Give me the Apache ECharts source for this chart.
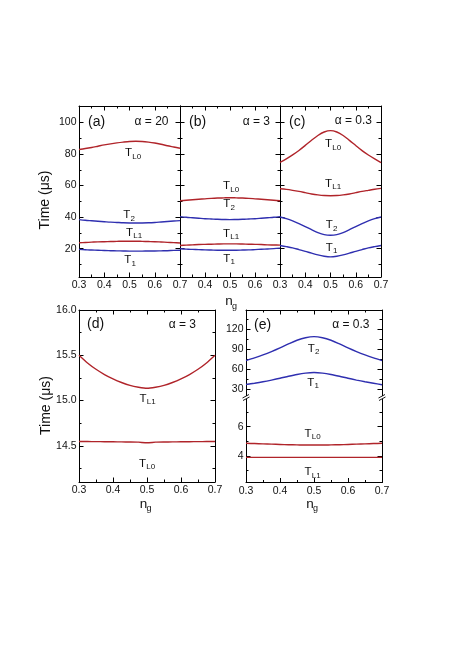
<!DOCTYPE html>
<html><head><meta charset="utf-8">
<script src="https://cdn.jsdelivr.net/npm/echarts@6/dist/echarts.min.js"></script>
<style>html,body{margin:0;padding:0;background:#fff}#c{width:457px;height:653px}</style>
</head><body><div id="c"></div><script>
const FONT = '"Liberation Sans", Arial, Helvetica, sans-serif';
const RED = '#b0242a', BLUE = '#2f2fb0';

// charge offset n_g
const ng = [0.300,0.325,0.350,0.375,0.400,0.425,0.450,0.475,0.500,0.525,0.550,0.575,0.600,0.625,0.650,0.675,0.700];

// (a) alpha = 20
const aTL0 = [82.9,83.5,84.2,85.0,85.8,86.5,87.1,87.6,88.0,88.1,88.0,87.6,87.0,86.2,85.3,84.5,83.7];
const aT2  = [38.4,38.0,37.7,37.4,37.1,36.8,36.6,36.4,36.3,36.3,36.3,36.4,36.6,36.9,37.2,37.5,37.8];
const aTL1 = [23.7,23.9,24.1,24.3,24.4,24.5,24.6,24.7,24.7,24.7,24.6,24.5,24.4,24.2,24.0,23.8,23.6];
const aT1  = [19.5,19.3,19.1,19.0,18.8,18.7,18.6,18.5,18.4,18.4,18.4,18.5,18.5,18.6,18.7,18.9,19.0];
// (b) alpha = 3
const bTL0 = [50.4,50.7,51.0,51.3,51.6,51.9,52.1,52.2,52.3,52.2,52.1,51.9,51.6,51.3,51.0,50.7,50.4];
const bT2  = [40.3,39.9,39.6,39.3,39.0,38.8,38.6,38.5,38.4,38.5,38.6,38.8,39.0,39.3,39.6,39.9,40.3];
const bTL1 = [22.0,22.2,22.4,22.6,22.7,22.8,22.9,23.0,23.0,23.0,22.9,22.8,22.7,22.6,22.4,22.3,22.2];
const bT1  = [19.9,19.7,19.5,19.4,19.2,19.1,19.0,19.0,19.0,19.0,19.1,19.2,19.4,19.6,19.8,20.0,20.3];
// (c) alpha = 0.3
const cTL0 = [74.8,77.0,79.5,82.3,85.5,88.8,91.8,94.0,94.9,94.0,91.8,88.7,85.4,82.2,79.4,76.9,74.6];
const cTL1 = [58.0,57.6,57.0,56.3,55.5,54.7,54.1,53.7,53.6,53.7,54.1,54.7,55.5,56.3,57.0,57.7,58.2];
const cT2  = [40.1,39.0,37.6,35.9,34.0,32.0,30.2,28.9,28.5,28.9,30.2,32.0,34.0,35.9,37.6,39.0,40.1];
const cT1  = [22.0,21.3,20.5,19.4,18.3,17.1,16.0,15.2,14.8,15.2,16.0,17.1,18.3,19.4,20.5,21.3,22.0];
// (d) alpha = 3 (zoom)
const dTL1 = [15.500,15.415,15.345,15.287,15.239,15.199,15.167,15.147,15.135,15.147,15.167,15.199,15.239,15.287,15.345,15.415,15.500];
const dTL0 = [14.548,14.547,14.546,14.545,14.544,14.543,14.542,14.540,14.533,14.540,14.542,14.543,14.544,14.545,14.546,14.547,14.548];
// (e) alpha = 0.3 (broken axis)
const eT2  = [72.9,77.0,81.5,86.5,92.0,98.0,103.5,107.3,108.9,107.3,103.5,98.0,92.0,86.5,81.5,77.0,72.9];
const eT1  = [36.9,38.9,41.1,43.6,46.3,49.3,52.0,54.0,54.9,54.0,52.0,49.3,46.3,43.6,41.1,38.8,36.5];
const eTL0 = [4.86,4.84,4.82,4.80,4.78,4.76,4.75,4.74,4.74,4.74,4.75,4.76,4.78,4.80,4.82,4.84,4.86];
const eTL1 = [3.89,3.89,3.89,3.89,3.89,3.89,3.89,3.89,3.89,3.89,3.89,3.89,3.89,3.89,3.89,3.89,3.89];

// tick values
const topMajor = [20,40,60,80,100], topMinor = [10,30,50,70,90];
const dMajor = [14.5,15.0,15.5,16.0], dMinor = [14.25,14.75,15.25,15.75];
const euMajor = [30,60,90,120], euMinor = [45,75,105,135];
const elMajor = [4,6], elMinor = [3,5,7];

const grids = [
  {left:79, top:106, width:101, height:171},
  {left:180, top:106, width:100, height:171},
  {left:280, top:106, width:101, height:171},
  {left:79, top:310, width:136, height:172},
  {left:246, top:310, width:136, height:87.5},
  {left:246, top:397.5, width:136, height:85}
];

const xAxes = [], yAxes = [];
const lineSt = {color:'#000', width:1};
function addX(gi, pos, showLabels, hideEnds) {
  xAxes.push({type:'value', gridIndex:gi, position:pos, min:0.3, max:0.7, interval:0.1,
    axisLine:{show:true, onZero:false, lineStyle:lineSt},
    axisTick:{show:true, inside:true, length:4.5, lineStyle:lineSt},
    minorTick:{show:true, splitNumber:2, length:2.5, lineStyle:lineSt},
    axisLabel:{show:showLabels, margin:3, fontSize:10.5, fontFamily:FONT, color:'#111',
      formatter:v=>v.toFixed(1), showMinLabel:!hideEnds, showMaxLabel:!hideEnds},
    splitLine:{show:false}, minorSplitLine:{show:false}});
  return xAxes.length - 1;
}
function addY(gi, pos, min, max, major, minor, showLabels, digits) {
  yAxes.push({type:'value', gridIndex:gi, position:pos, min:min, max:max,
    axisLine:{show:true, onZero:false, lineStyle:lineSt},
    axisTick:{show:true, inside:true, length:4.5, lineStyle:lineSt, customValues:major},
    axisLabel:{show:showLabels, margin:2.5, fontSize:10.5, fontFamily:FONT, color:'#111',
      customValues:major, formatter:v=>v.toFixed(digits)},
    splitLine:{show:false}});
  const idx = yAxes.length - 1;
  yAxes.push({type:'value', gridIndex:gi, position:pos, min:min, max:max,
    axisLine:{show:false}, axisTick:{show:true, inside:true, length:2.5, lineStyle:lineSt, customValues:minor},
    axisLabel:{show:false}, splitLine:{show:false}});
  return idx;
}

const series = [];
function addSeries(xi, yi, vals, color, smooth) {
  series.push({type:'line', xAxisIndex:xi, yAxisIndex:yi, showSymbol:false, symbol:'none',
    smooth:smooth, animation:false, silent:true,
    lineStyle:{color:color, width:1.4}, itemStyle:{color:color},
    data: ng.map((x,i)=>[x, vals[i]])});
}

// top panels
const topSets = [
  {curves:[[aTL0,RED],[aT2,BLUE],[aTL1,RED],[aT1,BLUE]], labelsY:true, hideEnds:false},
  {curves:[[bTL0,RED],[bT2,BLUE],[bTL1,RED],[bT1,BLUE]], labelsY:false, hideEnds:true},
  {curves:[[cTL0,RED],[cTL1,RED],[cT2,BLUE],[cT1,BLUE]], labelsY:false, hideEnds:false}
];
topSets.forEach((p, gi) => {
  const xb = addX(gi, 'bottom', true, p.hideEnds);
  addX(gi, 'top', false, false);
  const yl = addY(gi, 'left', 2, 110.5, topMajor, topMinor, p.labelsY, 0);
  addY(gi, 'right', 2, 110.5, topMajor, topMinor, false, 0);
  p.curves.forEach(c => addSeries(xb, yl, c[0], c[1], 0.3));
});
// (d)
{
  const xb = addX(3, 'bottom', true, false);
  addX(3, 'top', false, false);
  const yl = addY(3, 'left', 14.1, 16.0, dMajor, dMinor, true, 1);
  addY(3, 'right', 14.1, 16.0, dMajor, dMinor, false, 1);
  addSeries(xb, yl, dTL1, RED, 0.2);
  addSeries(xb, yl, dTL0, RED, 0.2);
}
// (e) upper
{
  const xt = addX(4, 'top', false, false);
  const yl = addY(4, 'left', 17.4, 149, euMajor, euMinor, true, 0);
  addY(4, 'right', 17.4, 149, euMajor, euMinor, false, 0);
  addSeries(xt, yl, eT2, BLUE, 0.3);
  addSeries(xt, yl, eT1, BLUE, 0.3);
}
// (e) lower
{
  const xb = addX(5, 'bottom', true, false);
  const yl = addY(5, 'left', 2.17, 8, elMajor, elMinor, true, 0);
  addY(5, 'right', 2.17, 8, elMajor, elMinor, false, 0);
  addSeries(xb, yl, eTL0, RED, 0.3);
  addSeries(xb, yl, eTL1, RED, 0.3);
}

// annotations
const G = [];
function txt(x, y, s, size, align, rot) {
  const el = {type:'text', x:x, y:y, silent:true, z:10,
    style:{text:s, font: size + 'px ' + FONT, fill:'#111', align:align, verticalAlign:'middle',
      textAlign:align, textVerticalAlign:'middle'}};
  if (rot) el.rotation = rot;
  G.push(el);
}
function tLabel(cx, cy, sub) {
  const wT = 0.611 * 11.5, wS = sub.length * 0.556 * 8;
  const x0 = cx - (wT + wS) / 2;
  txt(x0, cy, 'T', 11.5, 'left');
  txt(x0 + wT + 0.3, cy + 3.6, sub, 8, 'left');
}
function ngLabel(cx, cy) {
  txt(cx, cy, 'n', 13.5, 'center');
  txt(cx + 5.5, cy + 5, 'g', 9, 'center');
}
txt(88, 122, '(a)', 14, 'left'); txt(168.5, 122, 'α = 20', 12, 'right');
txt(189, 122, '(b)', 14, 'left'); txt(270, 122, 'α = 3', 12, 'right');
txt(289, 122, '(c)', 14, 'left'); txt(372, 121, 'α = 0.3', 12, 'right');
txt(87, 324, '(d)', 14, 'left'); txt(196, 325, 'α = 3', 12, 'right');
txt(254, 325, '(e)', 14, 'left'); txt(369.5, 325, 'α = 0.3', 12, 'right');

tLabel(133, 153, 'L0'); tLabel(129, 215, '2'); tLabel(134, 232.5, 'L1'); tLabel(130, 260, '1');
tLabel(231, 186, 'L0'); tLabel(229, 204, '2'); tLabel(231, 233.5, 'L1'); tLabel(229, 258.5, '1');
tLabel(333, 144, 'L0'); tLabel(333, 183.5, 'L1'); tLabel(331.5, 225, '2'); tLabel(331.5, 247.5, '1');
tLabel(147.5, 398.5, 'L1'); tLabel(147, 463.5, 'L0');
tLabel(313.5, 348.5, '2'); tLabel(313, 382.5, '1'); tLabel(312.5, 433.5, 'L0'); tLabel(312.5, 472, 'L1');

ngLabel(229, 301.5); ngLabel(143.5, 504); ngLabel(310, 504);
txt(45.5, 200, 'Time (μs)', 14, 'center', Math.PI / 2);
txt(46.5, 405.5, 'Time (μs)', 14, 'center', Math.PI / 2);

// axis break marks on panel (e)
[246, 382].forEach(x => {
  const y = 397.5;
  G.push({type:'rect', shape:{x:x-2, y:y-1.5, width:4, height:3}, style:{fill:'#fff'}, z:20, silent:true});
  G.push({type:'line', shape:{x1:x-3.5, y1:y+0.5, x2:x+3, y2:y-3}, style:{stroke:'#000', lineWidth:0.9}, z:21, silent:true});
  G.push({type:'line', shape:{x1:x-3, y1:y+3, x2:x+3.5, y2:y-0.5}, style:{stroke:'#000', lineWidth:0.9}, z:21, silent:true});
});

const chart = echarts.init(document.getElementById('c'), null, {renderer:'canvas'});
chart.setOption({
  animation:false,
  backgroundColor:'#fff',
  grid: grids,
  xAxis: xAxes,
  yAxis: yAxes,
  series: series,
  graphic: {elements: G}
});
</script></body></html>
